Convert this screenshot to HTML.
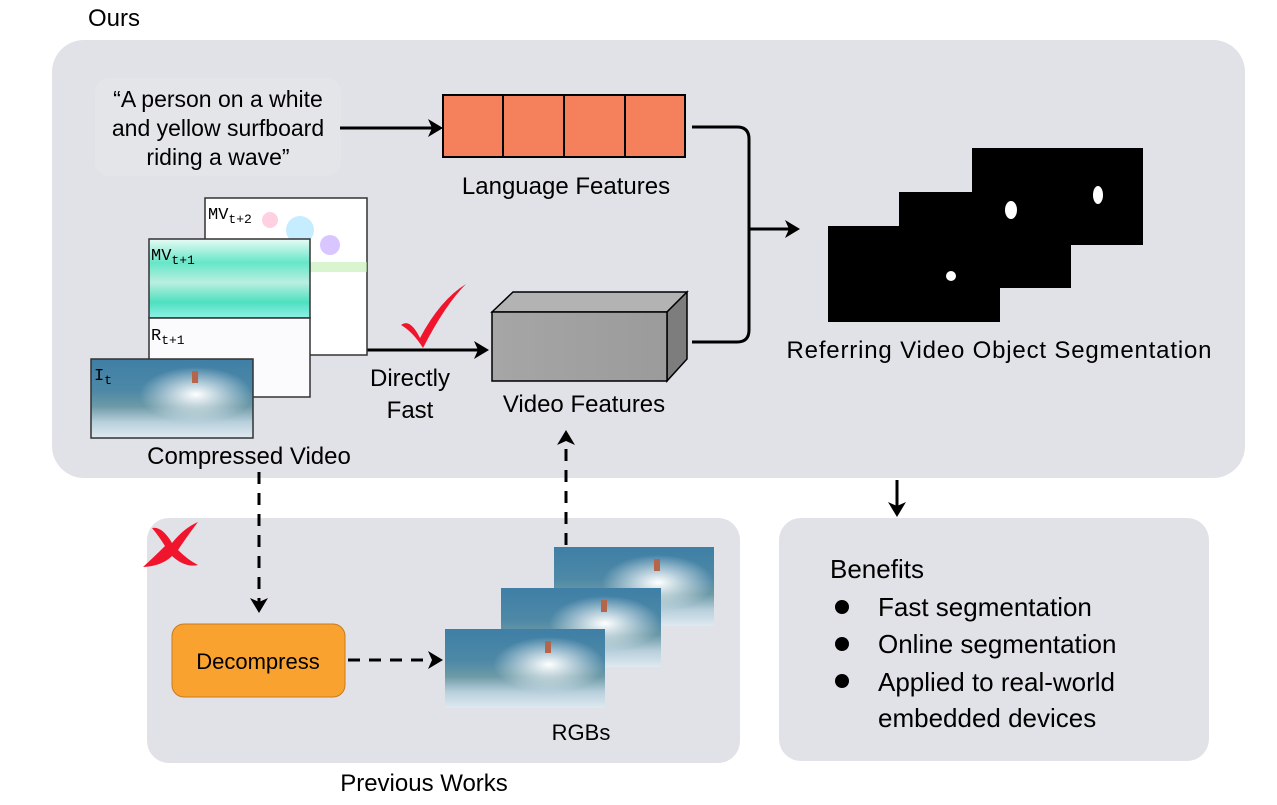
<!DOCTYPE html>
<html><head><meta charset="utf-8"><style>
body{margin:0;background:#fff;}
svg{display:block;font-family:"Liberation Sans",sans-serif;}
</style></head><body>
<svg width="1277" height="805" viewBox="0 0 1277 805">
<defs>
<linearGradient id="sea" x1="0" y1="0" x2="0" y2="1">
<stop offset="0" stop-color="#3f7fa6"/><stop offset="0.4" stop-color="#4d88a6"/><stop offset="0.6" stop-color="#6d9aa7"/><stop offset="0.8" stop-color="#b8d0dc"/><stop offset="1" stop-color="#dfe9f0"/></linearGradient>
<radialGradient id="foam" cx="0.65" cy="0.45" r="0.35"><stop offset="0" stop-color="#ffffff"/><stop offset="1" stop-color="#ffffff" stop-opacity="0"/></radialGradient>
<linearGradient id="mv1" x1="0" y1="0" x2="0" y2="1"><stop offset="0" stop-color="#e8fbf5"/><stop offset="0.3" stop-color="#66e6c8"/><stop offset="0.55" stop-color="#b9efe0"/><stop offset="0.8" stop-color="#4fe0c0"/><stop offset="1" stop-color="#8ff0e6"/></linearGradient>
<linearGradient id="box" x1="0" y1="0" x2="1" y2="0"><stop offset="0" stop-color="#a6a6a6"/><stop offset="1" stop-color="#9b9b9b"/></linearGradient>
<g id="surf">
<rect width="160" height="79" fill="url(#sea)"/>
<rect width="160" height="79" fill="url(#foam)"/>
<rect x="100" y="12" width="6" height="12" fill="#b5654a"/>
</g>
</defs>
<text x="88" y="26" font-size="24">Ours</text>
<rect x="52" y="40" width="1193" height="438" rx="32" fill="#e1e2e7"/>
<rect x="147" y="518" width="593" height="245" rx="22" fill="#e1e2e7"/>
<rect x="779" y="518" width="430" height="243" rx="22" fill="#e1e2e7"/>
<rect x="95" y="78" width="246" height="98" rx="14" fill="#e4e5e9"/>
<g font-size="23" text-anchor="middle">
<text x="218" y="107">“A person on a white</text>
<text x="218" y="136">and yellow surfboard</text>
<text x="218" y="165">riding a wave”</text>
</g>
<g fill="#f4805c" stroke="#000" stroke-width="2">
<rect x="443" y="95" width="60" height="62"/><rect x="503" y="95" width="61" height="62"/><rect x="564" y="95" width="61" height="62"/><rect x="625" y="95" width="60" height="62"/>
</g>
<text x="566" y="194" font-size="24" text-anchor="middle">Language Features</text>
<g stroke="#000" stroke-width="3" fill="none">
<line x1="340" y1="128" x2="432" y2="128"/>
<path d="M692 127 H737 Q749 127 749 139 V330 Q749 342 737 342 H692"/>
<line x1="749" y1="229" x2="790" y2="229"/>
<line x1="355" y1="350" x2="478" y2="350"/>
</g>
<path d="M443 128 L428 119 L432 128 L428 137 Z" fill="#000"/>
<path d="M800 229 L785 220 L789 229 L785 238 Z" fill="#000"/>
<path d="M489 350 L474 341 L478 350 L474 359 Z" fill="#000"/>
<rect x="205" y="198" width="162" height="157" fill="#fff" stroke="#333" stroke-width="1.5"/>
<g opacity="0.6"><circle cx="300" cy="230" r="14" fill="#9fe0ff"/><circle cx="270" cy="220" r="8" fill="#ffb0d0"/><circle cx="330" cy="245" r="10" fill="#c0a0ff"/><rect x="300" y="262" width="67" height="10" fill="#bff0b0"/></g>
<text x="208" y="219" font-family="Liberation Mono" font-size="17">MV<tspan font-size="13" dy="4">t+2</tspan></text>
<rect x="149" y="239" width="161" height="79" fill="url(#mv1)" stroke="#333" stroke-width="1.5"/>
<text x="151" y="260" font-family="Liberation Mono" font-size="17">MV<tspan font-size="13" dy="4">t+1</tspan></text>
<rect x="149" y="318" width="161" height="79" fill="#fbfbfd" stroke="#333" stroke-width="1.5"/>
<text x="151" y="340" font-family="Liberation Mono" font-size="17">R<tspan font-size="13" dy="4">t+1</tspan></text>
<g transform="translate(91,359) scale(1.01,1)"><use href="#surf"/></g>
<rect x="91" y="359" width="162" height="79" fill="none" stroke="#333" stroke-width="1.5"/>
<text x="94" y="380" font-family="Liberation Mono" font-size="17">I<tspan font-size="13" dy="4">t</tspan></text>
<text x="249" y="464" font-size="24" text-anchor="middle">Compressed Video</text>
<path d="M401 325 Q410 318 420 338 Q440 300 466 284 Q445 305 423 348 Q413 332 401 325 Z" fill="#f0142d"/>
<g font-size="24" text-anchor="middle"><text x="410" y="386">Directly</text><text x="410" y="418">Fast</text></g>
<polygon points="492,312 513,292 687,292 667,312" fill="#b3b3b3" stroke="#000" stroke-width="1.5"/>
<polygon points="667,312 687,292 687,359 667,381" fill="#7d7d7d" stroke="#000" stroke-width="1.5"/>
<rect x="492" y="312" width="175" height="69" fill="url(#box)" stroke="#000" stroke-width="1.5"/>
<text x="584" y="412" font-size="24" text-anchor="middle">Video Features</text>
<rect x="972" y="148" width="171" height="97" fill="#000"/>
<rect x="899" y="192" width="172" height="96" fill="#000"/>
<rect x="828" y="226" width="172" height="96" fill="#000"/>
<g fill="#fff"><ellipse cx="1098" cy="195" rx="5" ry="9"/><ellipse cx="1011" cy="210" rx="6" ry="9"/><ellipse cx="951" cy="276" rx="5" ry="5"/></g>
<text x="999" y="358" font-size="24" text-anchor="middle" textLength="425">Referring Video Object Segmentation</text>
<g stroke="#000" stroke-width="3" fill="none" stroke-dasharray="12,9">
<line x1="259" y1="472" x2="259" y2="602"/>
<line x1="348" y1="660" x2="432" y2="660"/>
<line x1="566" y1="545" x2="566" y2="442"/>
</g>
<path d="M259 613 L250 598 L259 602 L268 598 Z" fill="#000"/>
<path d="M443 660 L428 651 L432 660 L428 669 Z" fill="#000"/>
<path d="M566 430 L557 445 L566 441 L575 445 Z" fill="#000"/>
<line x1="897" y1="480" x2="897" y2="506" stroke="#000" stroke-width="3"/>
<path d="M897 517 L888 502 L897 506 L906 502 Z" fill="#000"/>
<path d="M152 528 Q162 526 172 543 Q184 528 198 522 Q188 535 178 550 Q188 560 198 565 Q185 568 172 556 Q162 566 143 567 Q155 556 165 546 Q158 535 152 528 Z" fill="#f0142d"/>
<rect x="172" y="624" width="173" height="73" rx="12" fill="#f9a22f" stroke="#c97a1e" stroke-width="1"/>
<text x="258" y="669" font-size="22" text-anchor="middle">Decompress</text>
<g transform="translate(554,547)"><use href="#surf"/></g>
<g transform="translate(501,588)"><use href="#surf"/></g>
<g transform="translate(445,629)"><use href="#surf"/></g>
<text x="581" y="740" font-size="22" text-anchor="middle">RGBs</text>
<text x="424" y="791" font-size="24" text-anchor="middle">Previous Works</text>
<g font-size="26">
<text x="830" y="578">Benefits</text>
<text x="878" y="616">Fast segmentation</text>
<text x="878" y="653">Online segmentation</text>
<text x="878" y="691">Applied to real-world</text>
<text x="878" y="727">embedded devices</text>
</g>
<g fill="#000"><circle cx="842" cy="607" r="7"/><circle cx="842" cy="644" r="7"/><circle cx="842" cy="681" r="7"/></g>
</svg>
</body></html>
